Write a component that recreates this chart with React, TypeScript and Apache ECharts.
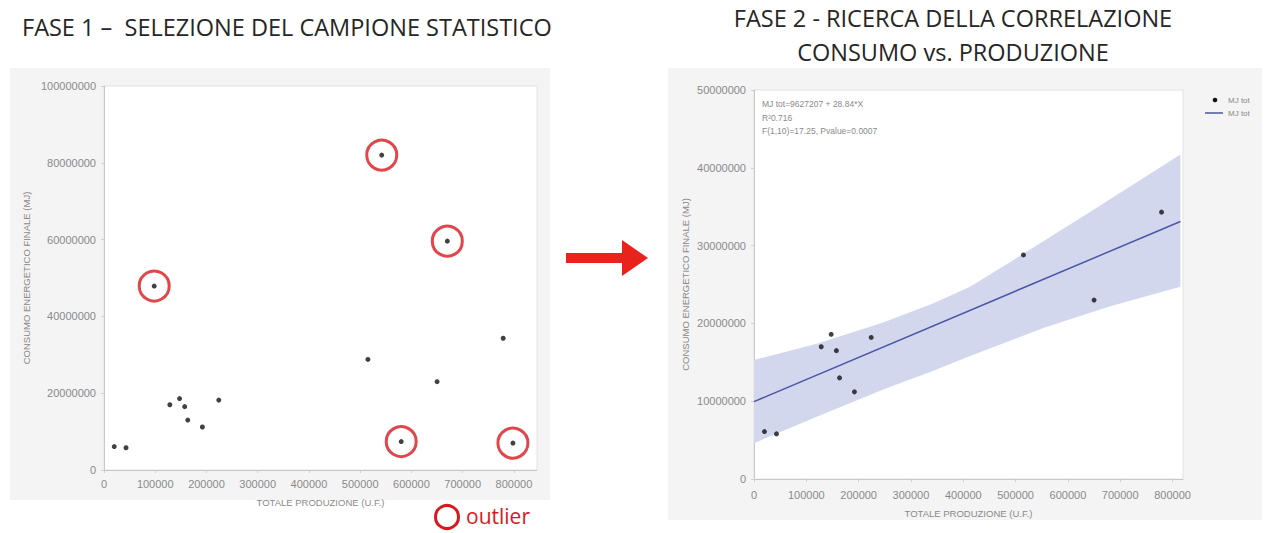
import React, { useEffect, useRef } from "react";
import * as echarts from "echarts";

// Sample kept for the regression (TOTALE PRODUZIONE U.F. vs CONSUMO MJ)
const sampleX = [20000, 43000, 128500, 147500, 157500, 163500, 192000, 224000, 515000, 650000, 779000];
const sampleY = [6100000, 5800000, 17000000, 18600000, 16500000, 13000000, 11200000, 18200000, 28800000, 23000000, 34300000];
// Outliers removed in phase 1
const outlierX = [98000, 542000, 580000, 670000, 798000];
const outlierY = [47900000, 82000000, 7400000, 59600000, 7000000];
// Regression line endpoints
const regX = [0, 815000];
const regY = [9950000, 33100000];
// Confidence band edges
const bandUpperX = [0, 120000, 247000, 343000, 413000, 521000, 649000, 815000];
const bandUpperY = [15300000, 17400000, 20100000, 22600000, 24700000, 29200000, 34600000, 41700000];
const bandLowerX = [0, 120000, 247000, 343000, 413000, 553000, 681000, 815000];
const bandLowerY = [4600000, 8000000, 11500000, 13900000, 15800000, 19400000, 22200000, 24700000];
// Tick settings
const leftYMax = 100000000;
const leftYStep = 20000000;
const rightYMax = 50000000;
const rightYStep = 10000000;
const xStep = 100000;

const annotation = ["MJ tot=9627207 + 28.84*X", "R²0.716", "F(1,10)=17.25, Pvalue=0.0007"];

const plain = (v: number) => String(v);
const tickFont = { fontFamily: "Liberation Sans", fontSize: 11, color: "#8a8a8a", formatter: plain };
const nameFont = { fontFamily: "Liberation Sans", fontSize: 9.5, color: "#8a8a8a" };

export default function App() {
  const ref = useRef<HTMLDivElement>(null);
  useEffect(() => {
    if (!ref.current) return;
    const chart = echarts.init(ref.current, null, { renderer: "svg" });
    const axisCommon = {
      type: "value",
      axisLine: { show: true, lineStyle: { color: "#c8c8c8" } },
      axisTick: { show: true, length: 3, lineStyle: { color: "#d0d0d0" } },
      splitLine: { show: false },
      axisLabel: { ...tickFont, margin: 8 },
      nameTextStyle: nameFont,
      nameLocation: "middle",
    };
    const allX = sampleX.concat(outlierX);
    const allY = sampleY.concat(outlierY);
    const titleFont = "23.5px 'Open Sans'";
    const option: any = {
      animation: false,
      backgroundColor: "#ffffff",
      grid: [
        { left: 104, top: 86, width: 433, height: 384, show: true, backgroundColor: "#ffffff", borderColor: "#e2e2e2", borderWidth: 1 },
        { left: 754, top: 90, width: 429, height: 389, show: true, backgroundColor: "#ffffff", borderColor: "#e2e2e2", borderWidth: 1 },
      ],
      xAxis: [
        { ...axisCommon, gridIndex: 0, min: 0, max: 845000, interval: xStep, name: "TOTALE PRODUZIONE (U.F.)", nameGap: 27, axisLabel: { ...tickFont, margin: 8, showMaxLabel: false } },
        { ...axisCommon, gridIndex: 1, min: 0, max: 820000, interval: xStep, name: "TOTALE PRODUZIONE (U.F.)", nameGap: 29, axisLabel: { ...tickFont, margin: 10, showMaxLabel: false } },
      ],
      yAxis: [
        { ...axisCommon, gridIndex: 0, min: 0, max: leftYMax, interval: leftYStep, name: "CONSUMO ENERGETICO FINALE (MJ)", nameGap: 73 },
        { ...axisCommon, gridIndex: 1, min: 0, max: rightYMax, interval: rightYStep, name: "CONSUMO ENERGETICO FINALE (MJ)", nameGap: 64 },
      ],
      series: [
        {
          type: "scatter",
          xAxisIndex: 0,
          yAxisIndex: 0,
          symbolSize: 30,
          data: outlierX.map((x, i) => [x, outlierY[i]]),
          itemStyle: { color: "rgba(0,0,0,0)", borderColor: "#d7191f", borderWidth: 3 },
          z: 3,
        },
        {
          type: "scatter",
          xAxisIndex: 0,
          yAxisIndex: 0,
          symbolSize: 5,
          data: allX.map((x, i) => [x, allY[i]]),
          itemStyle: { color: "#111111" },
          z: 4,
        },
        {
          type: "custom",
          xAxisIndex: 1,
          yAxisIndex: 1,
          data: [[0, 0]],
          clip: true,
          z: 1,
          renderItem: (params: any, api: any) => {
            const up = bandUpperX.map((x, i) => api.coord([x, bandUpperY[i]]));
            const lo = bandLowerX.map((x, i) => api.coord([x, bandLowerY[i]])).reverse();
            return {
              type: "polygon",
              shape: { points: up.concat(lo) },
              style: { fill: "#d2d7ee" },
            };
          },
        },
        {
          type: "line",
          xAxisIndex: 1,
          yAxisIndex: 1,
          data: regX.map((x, i) => [x, regY[i]]),
          symbol: "none",
          lineStyle: { color: "#4a56a6", width: 1.5 },
          z: 2,
        },
        {
          type: "scatter",
          xAxisIndex: 1,
          yAxisIndex: 1,
          symbolSize: 5,
          data: sampleX.map((x, i) => [x, sampleY[i]]),
          itemStyle: { color: "#111111" },
          z: 4,
        },
      ],
      graphic: [
        { type: "rect", z: -10, shape: { x: 10, y: 68, width: 540, height: 432 }, style: { fill: "#f4f4f4" } },
        { type: "rect", z: -10, shape: { x: 668, y: 68, width: 594, height: 452 }, style: { fill: "#f4f4f4" } },
        {
          type: "text", x: 22, y: 27,
          style: { text: "FASE 1 –  SELEZIONE DEL CAMPIONE STATISTICO", font: titleFont, fill: "#262626", verticalAlign: "middle" },
        },
        {
          type: "text", x: 953, y: 18,
          style: { text: "FASE 2 - RICERCA DELLA CORRELAZIONE", font: titleFont, fill: "#262626", align: "center", verticalAlign: "middle" },
        },
        {
          type: "text", x: 953, y: 52,
          style: { text: "CONSUMO vs. PRODUZIONE", font: titleFont, fill: "#262626", align: "center", verticalAlign: "middle" },
        },
        {
          type: "polygon",
          shape: { points: [[566, 253], [622, 253], [622, 240], [648, 258], [622, 276], [622, 263], [566, 263]] },
          style: { fill: "#e8231b" },
        },
        { type: "circle", shape: { cx: 447, cy: 517, r: 11.5 }, style: { fill: "none", stroke: "#d7191f", lineWidth: 3 } },
        { type: "text", x: 466, y: 516, style: { text: "outlier", font: "21px 'Open Sans'", fill: "#d7191f", verticalAlign: "middle" } },
        ...annotation.map((t, i) => ({
          type: "text", x: 762, y: 104 + i * 13.5,
          style: { text: t, font: "8.5px 'Liberation Sans'", fill: "#8a8a8a", verticalAlign: "middle" },
        })),
        { type: "circle", shape: { cx: 1215, cy: 100, r: 2.3 }, style: { fill: "#111111" } },
        { type: "text", x: 1228, y: 100, style: { text: "MJ tot", font: "8px 'Liberation Sans'", fill: "#8a8a8a", verticalAlign: "middle" } },
        { type: "line", shape: { x1: 1205, y1: 113, x2: 1223, y2: 113 }, style: { stroke: "#4a56a6", lineWidth: 1.5 } },
        { type: "text", x: 1228, y: 113, style: { text: "MJ tot", font: "8px 'Liberation Sans'", fill: "#8a8a8a", verticalAlign: "middle" } },
      ],
    };
    chart.setOption(option);
    return () => chart.dispose();
  }, []);
  return <div ref={ref} style={{ position: "fixed", left: 0, top: 0, width: 1265, height: 533 }} />;
}
